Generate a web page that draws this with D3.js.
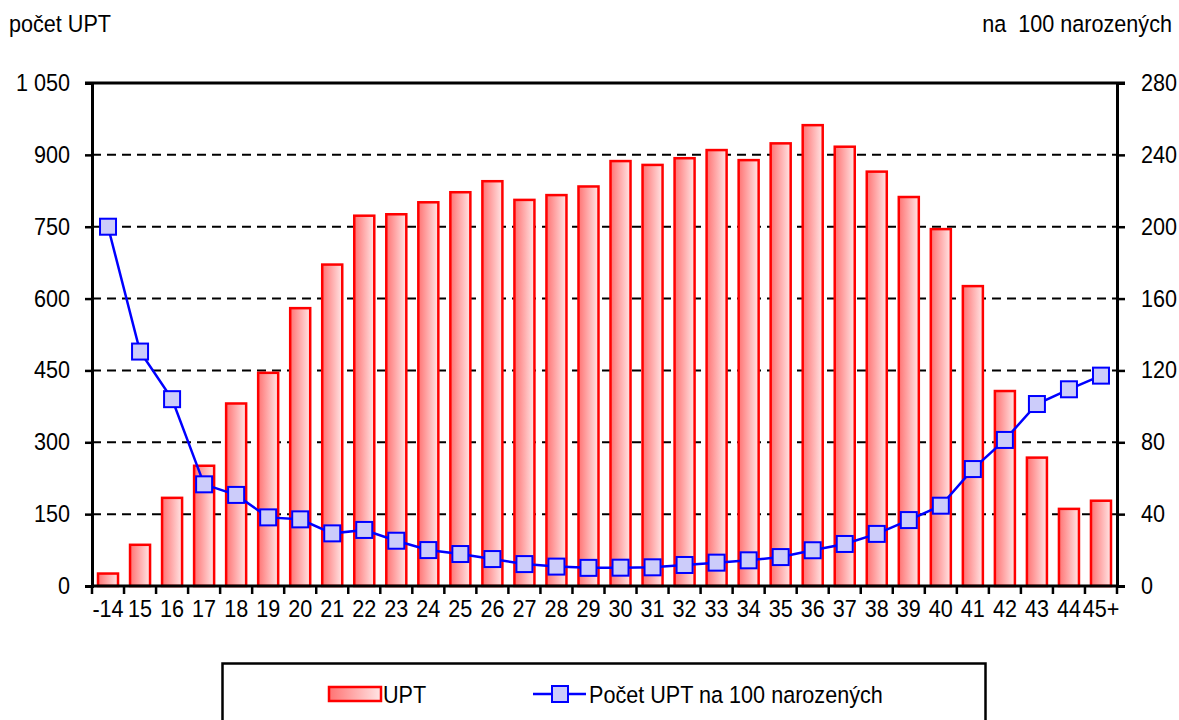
<!DOCTYPE html>
<html><head><meta charset="utf-8">
<script src="https://cdn.jsdelivr.net/npm/d3@7"></script>
<style>
body{margin:0;background:#fff;}
text{font-family:"Liberation Sans",Arial,sans-serif;font-size:23.5px;fill:#000;}
</style></head>
<body><svg id="c" width="1179" height="720"></svg>
<script>
const categories = ["-14","15","16","17","18","19","20","21","22","23","24","25","26","27","28","29","30","31","32","33","34","35","36","37","38","39","40","41","42","43","44","45+"];
const upt = [26,86,184,251,381,445,580,671,773,776,801,822,845,806,816,834,887,879,893,910,889,924,962,917,865,812,745,626,407,268,161,178];
const uptPer100 = [200,130.5,104,56.6,50.7,38.2,37.1,29.3,31.2,25.2,20.0,17.8,15.0,12.2,10.8,10.1,10.2,10.4,11.7,13.0,14.3,16.1,19.9,23.4,29.0,36.7,44.7,65.1,81.3,101.3,109.5,117.1];
const leftTicks = [0,150,300,450,600,750,900,1050];
const rightTicks = [0,40,80,120,160,200,240,280];
const leftTickLabels = ["0","150","300","450","600","750","900","1 050"];
const rightTickLabels = ["0","40","80","120","160","200","240","280"];
const leftTitle = "počet UPT";
const rightTitle = "na  100 narozených";
const legendLabels = ["UPT","Počet UPT na 100 narozených"];

const svg = d3.select("#c");
const L=92, R=1117, T=83, B=586;
const x = d3.scaleBand().domain(categories).range([L,R]).paddingInner(0.375).paddingOuter(0.1875);
const xb = d3.scaleBand().domain(categories).range([L,R]);
const yL = d3.scaleLinear().domain([0,1050]).range([B,T]);
const yR = d3.scaleLinear().domain([0,280]).range([B,T]);

const defs = svg.append("defs");
const g = defs.append("linearGradient").attr("id","barGrad").attr("x1","0").attr("x2","1").attr("y1","0").attr("y2","0");
g.append("stop").attr("offset","0").attr("stop-color","#ff7373");
g.append("stop").attr("offset","1").attr("stop-color","#ffe6e6");

// gridlines
svg.append("g").selectAll("line").data(leftTicks.filter(d=>d>0 && d<1050)).join("line")
  .attr("x1",L).attr("x2",R).attr("y1",d=>yL(d)).attr("y2",d=>yL(d))
  .attr("stroke","#000").attr("stroke-width",2).attr("stroke-dasharray","9,6");

// bars
svg.append("g").selectAll("rect").data(upt).join("rect")
  .attr("x",(d,i)=>x(categories[i])).attr("width",x.bandwidth())
  .attr("y",d=>yL(d)).attr("height",d=>B-yL(d))
  .attr("fill","url(#barGrad)").attr("stroke","#ff0000").attr("stroke-width",2.5);

// axes
const axL = svg.append("g").attr("transform",`translate(${L},0)`)
  .call(d3.axisLeft(yL).tickValues(leftTicks).tickFormat((d,i)=>leftTickLabels[i]).tickSize(7).tickPadding(15));
const axR = svg.append("g").attr("transform",`translate(${R},0)`)
  .call(d3.axisRight(yR).tickValues(rightTicks).tickFormat((d,i)=>rightTickLabels[i]).tickSize(8).tickPadding(16));
const axB = svg.append("g").attr("transform",`translate(0,${B})`)
  .call(d3.axisBottom(xb).tickSize(0).tickPadding(14));
[axL,axR,axB].forEach(a=>{
  a.select(".domain").attr("stroke","#000").attr("stroke-width",3);
  a.selectAll(".tick line").attr("stroke","#000").attr("stroke-width",2.5);
  a.selectAll("text").style("font-family",'"Liberation Sans",Arial,sans-serif').style("font-size","23.5px").attr("fill","#000");
});
axB.select(".domain").attr("d",`M${L},0H${R}`);
// bottom ticks at band boundaries
svg.append("g").selectAll("line").data(categories.concat(["end"])).join("line")
  .attr("x1",(d,i)=>i<categories.length?xb(d):R).attr("x2",(d,i)=>i<categories.length?xb(d):R)
  .attr("y1",B).attr("y2",B+8).attr("stroke","#000").attr("stroke-width",2.5);
// top frame line
svg.append("line").attr("x1",L-7).attr("x2",R+8).attr("y1",T).attr("y2",T).attr("stroke","#000").attr("stroke-width",3);

// line series
const line = d3.line().x((d,i)=>xb(categories[i])+xb.bandwidth()/2).y(d=>yR(d));
svg.append("path").datum(uptPer100).attr("d",line).attr("fill","none").attr("stroke","#0000ff").attr("stroke-width",2.5);
svg.append("g").selectAll("rect").data(uptPer100).join("rect")
  .attr("x",(d,i)=>xb(categories[i])+xb.bandwidth()/2-8).attr("y",d=>yR(d)-8)
  .attr("width",16).attr("height",16).attr("fill","#ccccfa").attr("stroke","#0000ff").attr("stroke-width",2);

// titles
svg.append("text").attr("x",9).attr("y",32).text(leftTitle);
svg.append("text").attr("x",1172).attr("y",32).attr("text-anchor","end").attr("xml:space","preserve").style("white-space","pre").text(rightTitle);

// legend
svg.append("rect").attr("x",222.5).attr("y",663.5).attr("width",763).attr("height",80).attr("fill","#fff").attr("stroke","#000").attr("stroke-width",2.5);
svg.append("rect").attr("x",329).attr("y",687).attr("width",52).attr("height",14).attr("fill","url(#barGrad)").attr("stroke","#ff0000").attr("stroke-width",2.5);
svg.append("text").attr("x",383).attr("y",703).text(legendLabels[0]);
svg.append("line").attr("x1",533).attr("x2",586).attr("y1",694).attr("y2",694).attr("stroke","#0000ff").attr("stroke-width",2.5);
svg.append("rect").attr("x",552).attr("y",686).attr("width",16).attr("height",16).attr("fill","#ccccfa").attr("stroke","#0000ff").attr("stroke-width",2);
svg.append("text").attr("x",589).attr("y",703).text(legendLabels[1]);

// condense text horizontally to mimic the narrow face of the original
svg.selectAll("text").each(function(){
  const x0 = +(this.getAttribute("x")||0);
  const prev = this.getAttribute("transform")||"";
  this.setAttribute("transform", prev+` translate(${x0},0) scale(0.92,1) translate(${-x0},0)`);
});
</script></body></html>
